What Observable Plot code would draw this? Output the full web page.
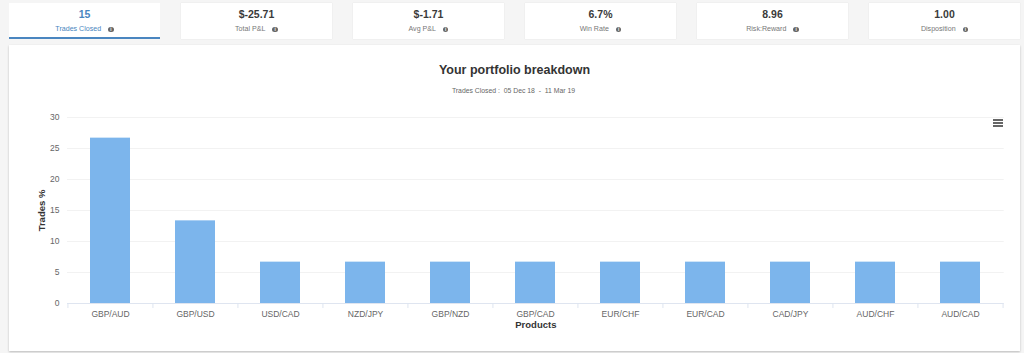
<!DOCTYPE html>
<html><head><meta charset="utf-8">
<script src="https://cdn.jsdelivr.net/npm/d3@7"></script>
<script src="https://cdn.jsdelivr.net/npm/@observablehq/plot@0.6"></script>
<style>
html,body{margin:0;padding:0;width:1024px;height:353px;overflow:hidden;background:#f5f5f5;font-family:"Liberation Sans",Arial,sans-serif}
.card{position:absolute;top:3px;width:151px;height:36px;background:#fff;box-shadow:0 0 1px #ddd;text-align:center;box-sizing:border-box}
.card.active{border-bottom:2px solid #4a86c0;box-shadow:none}
.v{position:absolute;left:0;right:0;top:5px;font-size:10.5px;font-weight:bold;color:#3a3a3a;line-height:12px}
.card.active .v{color:#4a86c0}
.l{position:absolute;left:0;right:0;top:20.5px;font-size:7.1px;color:#777;line-height:10px}
.card.active .l{color:#4a86c0}
.i{display:inline-block;width:5.5px;height:5.5px;line-height:5.5px;border-radius:50%;background:#666;color:#fff;font-size:4.5px;font-weight:bold;margin-left:7px;vertical-align:0;text-align:center}
#panel{position:absolute;left:9px;top:45px;width:1011px;height:306px;background:#fff;box-shadow:0 1px 2px #bbb}
#title{position:absolute;left:9px;width:1011px;top:62px;text-align:center;font-size:12.5px;font-weight:bold;color:#333;line-height:16px}
#sub{position:absolute;left:8px;width:1011px;top:86px;text-align:center;font-size:6.85px;color:#666;line-height:10px;white-space:pre}
#chart{position:absolute;left:0;top:0}
#menu{position:absolute;left:993px;top:119px;width:10px;height:2px;background:#666;box-shadow:0 3px 0 #666,0 6px 0 #666}
</style></head><body>
<div id="panel"></div>
<div id="cards"></div>
<div id="title">Your portfolio breakdown</div>
<div id="sub">Trades Closed :  05 Dec 18  -  11 Mar 19</div>
<div id="chart"></div>
<div id="menu"></div>
<script>
const products = ["GBP/AUD","GBP/USD","USD/CAD","NZD/JPY","GBP/NZD","GBP/CAD","EUR/CHF","EUR/CAD","CAD/JPY","AUD/CHF","AUD/CAD"];
const tradesPct = [26.67,13.33,6.67,6.67,6.67,6.67,6.67,6.67,6.67,6.67,6.67];
const yTicks = [0,5,10,15,20,25,30];
const cardValues = ["15","$-25.71","$-1.71","6.7%","8.96","1.00"];
const cardLabels = ["Trades Closed","Total P&L","Avg P&L","Win Rate","Risk:Reward","Disposition"];
const cardLefts = [9,181,353,525,697,869];

const cards = document.getElementById("cards");
cardValues.forEach((v,i)=>{
  const c = document.createElement("div");
  c.className = "card" + (i===0 ? " active" : "");
  c.style.left = cardLefts[i] + "px";
  const a = document.createElement("div"); a.className="v"; a.textContent=v;
  const b = document.createElement("div"); b.className="l"; b.textContent=cardLabels[i];
  const d = document.createElement("span"); d.className="i"; d.textContent="i"; b.appendChild(d);
  c.append(a,b); cards.appendChild(c);
});

const data = products.map((p,i)=>({p, v:tradesPct[i]}));
const step = 85.15;
const plot = Plot.plot({
  width:1024, height:353,
  marginLeft:67, marginRight:20.3, marginTop:117, marginBottom:50,
  style:{background:"transparent", fontFamily:"'Liberation Sans',Arial,sans-serif"},
  x:{domain:products, paddingInner:0.53, paddingOuter:0.265, label:null, axis:null},
  y:{domain:[0,30], label:null, axis:null},
  marks:[
    Plot.ruleY(yTicks.filter(t=>t>0),{stroke:"#f2f2f2",strokeWidth:1}),
    Plot.barY(data,{x:"p",y:"v",fill:"#7cb5ec"}),
    Plot.ruleY([0],{stroke:"#dfe5f0",strokeWidth:1}),
    Plot.ruleX(products,{x:d=>d,y1:0,y2:0,insetBottom:-5,dx:-step/2,stroke:"#dfe5f0"}),
    Plot.ruleX(products.slice(-1),{x:d=>d,y1:0,y2:0,insetBottom:-5,dx:step/2,stroke:"#dfe5f0"}),
    Plot.axisX({tickSize:0,tickPadding:7,fontSize:8.5,color:"#666",label:null}),
    Plot.axisY({ticks:yTicks,tickSize:0,tickPadding:8,fontSize:8.5,color:"#666",label:null}),
    Plot.text(["Products"],{frameAnchor:"bottom",dy:24,fontSize:9.5,fontWeight:"bold",fill:"#333"}),
    Plot.text(["Trades %"],{frameAnchor:"left",textAnchor:"middle",dx:-25.5,rotate:-90,fontSize:9.5,fontWeight:"bold",fill:"#333"})
  ]
});
document.getElementById("chart").appendChild(plot);
</script>
</body></html>
